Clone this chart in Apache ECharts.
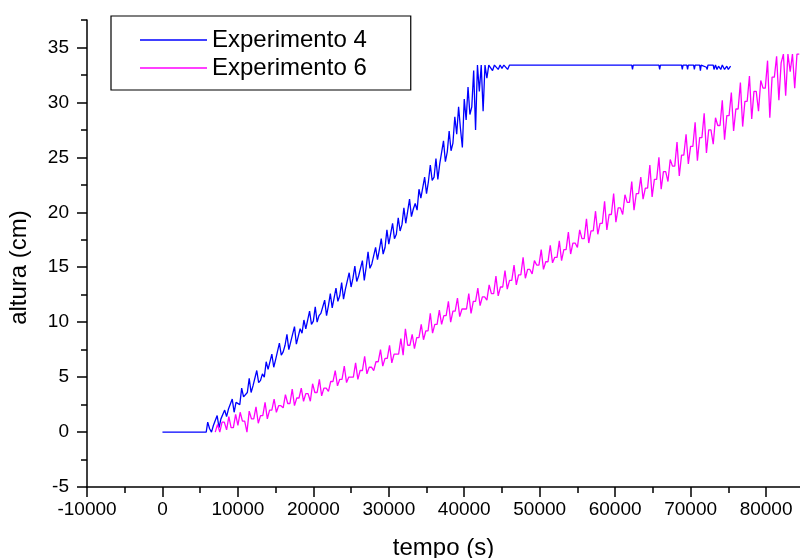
<!DOCTYPE html>
<html>
<head>
<meta charset="utf-8">
<script src="https://cdn.jsdelivr.net/npm/echarts@6/dist/echarts.min.js"></script>
<style>
  html, body { margin: 0; padding: 0; background: #fff; }
  #chart-container { width: 800px; height: 558px; }
</style>
</head>
<body>
<div id="chart-container"></div>
<script>
var myChart = echarts.init(document.getElementById('chart-container'));

// --- data ---
const seriesNames = ['Experimento 4', 'Experimento 6'];

// Experimento 4: flat start, noisy climb (one sample every 250 s), then the plateau
const exp4Start = [[0, 0], [5800, 0]];
const exp4RiseT0 = 6000;
const exp4RiseStep = 250;
const exp4Rise = [
  0.9, 0.3, 0, 0.6, 0.6, 1.5, 0.4, 1.2, 1.2, 2.0,
  1.4, 2.1, 2.1, 3.0, 1.8, 2.7, 2.7, 2.5, 4.0, 3.2,
  3.3, 3.6, 4.9, 3.6, 4.2, 4.2, 5.6, 4.5, 4.7, 5.3,
  5.0, 6.4, 5.7, 5.7, 7.1, 5.9, 6.6, 6.6, 8.1, 7.0,
  7.3, 7.9, 8.9, 7.5, 8.2, 8.2, 9.6, 8.0, 8.7, 9.4,
  9.0, 10.2, 9.4, 9.4, 11.0, 9.8, 10.1, 11.4, 10.0, 10.6,
  10.8, 10.8, 12.0, 10.6, 11.5, 12.6, 11.3, 11.3, 13.1, 11.9,
  12.4, 13.6, 12.1, 13.0, 13.0, 14.5, 13.2, 14.0, 15.1, 13.7,
  14.2, 14.2, 15.6, 13.8, 15.0, 16.4, 14.9, 15.3, 15.3, 16.8,
  15.7, 16.6, 17.6, 16.2, 16.8, 18.4, 17.1, 17.1, 19.0, 17.6,
  18.0, 19.5, 18.3, 18.9, 20.4, 19.0, 19.0, 21.2, 19.6, 20.3,
  20.8, 20.2, 22.1, 21.3, 21.3, 23.2, 21.7, 22.8, 24.3, 22.9,
  23.2, 24.9, 23.0, 24.4, 24.4, 26.5, 24.6, 25.5, 27.4, 25.6,
  26.3, 28.7, 27.1, 29.6, 27.6, 25.9, 30.3, 28.4, 31.4, 28.9,
  29.6, 32.9, 27.5, 33.4, 31.0, 33.4, 29.2, 33.4, 32.2, 33.4,
  33.4, 32.9, 33.4, 33.4, 33.0, 33.4, 33.1, 33.4, 33.4, 33.0
];
const exp4Plateau = [
  [46000, 33.4], [62200, 33.4], [62300, 33.0], [62400, 33.4],
  [65800, 33.4], [65900, 33.0], [66000, 33.4], [68800, 33.4], [68900, 33.0], [69000, 33.4],
  [69500, 33.4], [69600, 33.0], [69700, 33.4], [70400, 33.4], [70500, 33.0], [70600, 33.4],
  [71200, 33.4], [71300, 32.9], [71400, 33.4], [72100, 33.2], [72200, 33.0], [72300, 33.4],
  [73000, 33.4], [73100, 33.0], [73300, 33.4], [73500, 33.0], [73700, 33.3], [74000, 33.0],
  [74200, 33.4], [74500, 33.0], [74800, 33.3], [75000, 33.0], [75300, 33.3]
];

// Experimento 6: one sample every 300 s from 7000 s
const exp6T0 = 7000;
const exp6Step = 300;
const exp6Values = [
  0, 0.7, 0, 0.9, 0.9, 0.2, 1.4, 0.4, 0.4, 1.6,
  0.6, 1.8, 1.0, 1.0, 0, 1.9, 1.2, 1.2, 2.3, 0.8,
  1.5, 1.5, 2.7, 1.2, 2.0, 2.0, 3.0, 1.8, 2.4, 2.4,
  2.2, 3.4, 2.6, 2.6, 3.9, 2.4, 3.1, 3.1, 4.0, 2.8,
  3.5, 3.5, 2.8, 4.4, 3.6, 3.6, 4.8, 3.3, 4.0, 4.0,
  3.7, 4.6, 4.6, 5.6, 4.2, 4.8, 4.8, 6.0, 4.5, 5.0,
  5.0, 5.0, 6.3, 4.8, 5.6, 5.6, 6.9, 5.3, 5.9, 5.9,
  5.6, 6.4, 6.4, 7.5, 6.0, 6.7, 6.7, 7.9, 6.3, 7.1,
  7.1, 7.1, 8.5, 7.0, 9.4, 7.9, 7.9, 8.9, 7.6, 8.6,
  8.6, 9.8, 8.4, 9.2, 9.2, 10.8, 9.0, 9.8, 9.8, 11.1,
  9.8, 10.6, 10.6, 11.9, 10.0, 11.0, 11.0, 12.2, 10.5, 11.2,
  11.2, 11.2, 12.6, 10.8, 11.9, 11.9, 13.1, 11.5, 12.3, 12.3,
  12.0, 13.4, 12.6, 12.6, 14.2, 12.4, 13.2, 13.2, 14.7, 13.0,
  13.8, 13.8, 15.2, 13.4, 14.3, 14.3, 15.9, 14.0, 14.8, 14.8,
  14.4, 15.6, 15.2, 15.2, 16.6, 14.8, 15.5, 15.5, 17.0, 15.4,
  15.9, 15.9, 17.4, 15.6, 16.6, 16.6, 18.2, 16.2, 17.2, 17.2,
  16.8, 18.4, 17.6, 17.6, 19.4, 17.2, 18.3, 18.3, 20.1, 18.0,
  19.0, 19.0, 21.0, 18.4, 19.8, 19.8, 21.7, 19.1, 20.4, 20.4,
  19.8, 21.6, 20.9, 20.9, 22.8, 20.2, 21.7, 21.7, 23.2, 21.2,
  22.2, 22.2, 24.3, 21.4, 23.0, 23.0, 25.0, 22.1, 23.7, 23.7,
  22.8, 24.8, 24.2, 24.2, 26.4, 23.3, 25.2, 25.2, 27.1, 24.4,
  26.0, 26.0, 28.2, 24.7, 26.8, 26.8, 29.0, 25.4, 27.5, 27.5,
  26.2, 28.6, 27.9, 27.9, 30.2, 26.6, 28.8, 28.8, 30.9, 27.4,
  29.4, 29.4, 31.8, 27.8, 30.1, 30.1, 32.4, 28.5, 31.0, 31.0,
  29.2, 32.0, 31.3, 31.3, 33.8, 28.6, 32.3, 32.3, 34.2, 30.2,
  33.6, 34.4, 30.6, 34.4, 32.8, 34.4, 31.3, 34.4, 34.4
];

// axis ticks
const xMajorTicks = [-10000, 0, 10000, 20000, 30000, 40000, 50000, 60000, 70000, 80000];
const xMinorTicks = [-5000, 5000, 15000, 25000, 35000, 45000, 55000, 65000, 75000];
const yMajorTicks = [-5, 0, 5, 10, 15, 20, 25, 30, 35];
const yMinorTicks = [-2.5, 2.5, 7.5, 12.5, 17.5, 22.5, 27.5, 32.5, 37.5];

// --- build series data ---
const exp4Data = exp4Start
  .concat(exp4Rise.map((v, i) => [exp4RiseT0 + i * exp4RiseStep, v]))
  .concat(exp4Plateau);
const exp6Data = exp6Values.map((v, i) => [exp6T0 + i * exp6Step, v]);

const FONT = 'Liberation Sans';
const axisLineStyle = { color: '#000', width: 1.5 };
const plainNumber = function (v) { return String(v); };

const option = {
    animation: false,
    backgroundColor: '#fff',
    grid: { left: 87, right: 0, top: 20, bottom: 71, containLabel: false, outerBoundsMode: 'none' },
    legend: {
        orient: 'vertical',
        left: 111, top: 16,
        padding: [12, 44, 10, 29],
        icon: 'rect',
        itemWidth: 67, itemHeight: 1.5, itemGap: 4,
        backgroundColor: '#fff',
        borderColor: '#000', borderWidth: 1.2,
        textStyle: { fontSize: 24, fontFamily: FONT, color: '#000' },
        data: seriesNames
    },
    xAxis: [
        {
            type: 'value', min: -10000, max: 84500, interval: 10000,
            name: 'tempo (s)', nameLocation: 'middle', nameGap: 49,
            nameTextStyle: { fontSize: 24, fontFamily: FONT, color: '#000' },
            axisLine: { show: true, onZero: false, lineStyle: axisLineStyle },
            axisTick: { show: true, length: 10, customValues: xMajorTicks, lineStyle: axisLineStyle },
            axisLabel: { fontSize: 19, fontFamily: FONT, color: '#000', margin: 13, customValues: xMajorTicks, formatter: plainNumber },
            splitLine: { show: false }
        },
        {
            type: 'value', min: -10000, max: 84500, position: 'bottom',
            axisLine: { show: false, onZero: false },
            axisTick: { show: true, length: 6, customValues: xMinorTicks, lineStyle: axisLineStyle },
            axisLabel: { show: false },
            splitLine: { show: false }
        }
    ],
    yAxis: [
        {
            type: 'value', min: -5, max: 37.5, interval: 5,
            name: 'altura (cm)', nameLocation: 'middle', nameGap: 56,
            nameTextStyle: { fontSize: 24, fontFamily: FONT, color: '#000', padding: [0, 28, 0, 0] },
            axisLine: { show: true, onZero: false, lineStyle: axisLineStyle },
            axisTick: { show: true, length: 10, customValues: yMajorTicks, lineStyle: axisLineStyle },
            axisLabel: { fontSize: 19, fontFamily: FONT, color: '#000', margin: 18, customValues: yMajorTicks, formatter: plainNumber },
            splitLine: { show: false }
        },
        {
            type: 'value', min: -5, max: 37.5, position: 'left',
            axisLine: { show: false, onZero: false },
            axisTick: { show: true, length: 6, customValues: yMinorTicks, lineStyle: axisLineStyle },
            axisLabel: { show: false },
            splitLine: { show: false }
        }
    ],
    series: [
        {
            name: seriesNames[0], type: 'line', data: exp4Data,
            xAxisIndex: 0, yAxisIndex: 0,
            symbol: 'none', lineStyle: { color: '#0000ff', width: 1.3 }, itemStyle: { color: '#0000ff' }
        },
        {
            name: seriesNames[1], type: 'line', data: exp6Data,
            xAxisIndex: 0, yAxisIndex: 0,
            symbol: 'none', lineStyle: { color: '#ff00ff', width: 1.3 }, itemStyle: { color: '#ff00ff' }
        }
    ]
};

myChart.setOption(option);

window.addEventListener('resize', function() {
    myChart.resize();
});
</script>
</body>
</html>
